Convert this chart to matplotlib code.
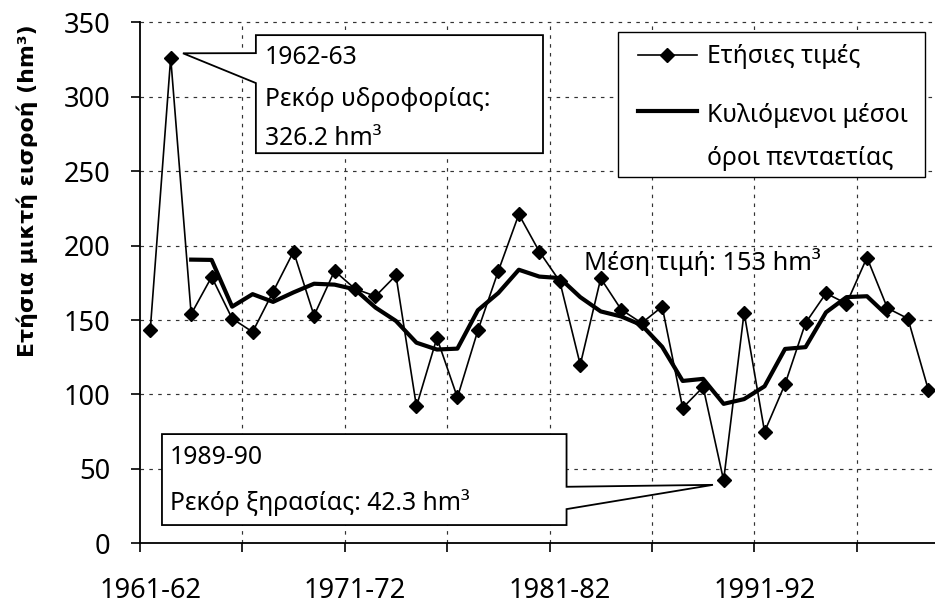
import numpy as np
import matplotlib.pyplot as plt
from matplotlib.patches import Polygon, Rectangle
from matplotlib.lines import Line2D

plt.rcParams["font.family"] = ["Noto Sans", "DejaVu Sans"]

# annual net inflow (hm3), hydrological years 1961-62 ... 1999-00
inflow = [143, 326.2, 154, 179, 151, 142, 169, 196, 153, 183,
          171, 166, 180, 92, 138, 98, 143, 183, 221, 196,
          176, 120, 178, 157, 148, 159, 91, 105, 42.3, 155,
          75, 107, 148, 168, 161, 192, 158, 151, 103]

# centred 5-year moving average, first value sits on the 3rd year
ma5_start = 2
ma5 = [190.6, 190.4, 159.0, 167.4, 162.2, 168.6, 174.4, 173.8, 170.6, 158.4,
       149.4, 134.8, 130.2, 130.8, 156.6, 168.2, 183.8, 179.2, 178.2, 165.4,
       155.8, 152.4, 146.6, 132.0, 109.1, 110.5, 93.7, 96.9, 105.5, 130.6,
       131.8, 155.2, 165.4, 166.0, 153.0]

tick_pos = [0, 10, 20, 30]
tick_labels = ["1961-62", "1971-72", "1981-82", "1991-92"]
mean_val = 153
wet_idx = 1    # 1962-63
dry_idx = 28   # 1989-90

x = np.arange(len(inflow))
xm = np.arange(ma5_start, ma5_start + len(ma5))

fig = plt.figure(figsize=(9.35, 6.05), dpi=100)
ax = fig.add_axes([0.1497, 0.1019, 0.8542, 0.8612])

ax.plot(x, inflow, color="black", lw=1.2, marker="D", ms=7, zorder=4)
ax.plot(xm, ma5, color="black", lw=3, zorder=3)

ax.set_xlim(-0.5, len(inflow) - 0.5)
ax.set_ylim(0, 350)

# grid
yt = np.arange(0, 351, 50)
ax.set_yticks(yt)
xt = np.arange(-0.5, len(inflow) - 1, 5)
ax.set_xticks(xt)
ax.set_xticks(tick_pos, minor=True)
ax.set_xticklabels(tick_labels, minor=True)
grid_ls = (0, (3, 4.5))
for yv in yt[1:]:
    ax.axhline(yv, color="#333333", lw=0.85, ls=grid_ls, zorder=0, clip_on=False)
for xv in xt[1:]:
    ax.axvline(xv, color="#333333", lw=0.85, ls=grid_ls, zorder=0)

ax.tick_params(axis="x", which="major", length=6.5, width=1.2, labelbottom=False)
ax.tick_params(axis="x", which="minor", length=0, pad=24, labelsize=19.6)
ax.tick_params(axis="y", length=6.7, width=1.2, pad=14.4, labelsize=19.6)
for s in ["top", "right"]:
    ax.spines[s].set_visible(False)
for s in ["left", "bottom"]:
    ax.spines[s].set_linewidth(1.3)
    ax.spines[s].set_zorder(5)

fig.text(0.029, 0.684, "Ετήσια μικτή εισροή (hm³)", rotation=90,
         ha="center", va="center", fontsize=15.8, fontweight="bold",
         family="DejaVu Sans")

fs = 17.8

# callout: wettest year
wx, wy = x[wet_idx] + 0.6, inflow[wet_idx] + 3
box1 = [(5.16, 341.4), (19.18, 341.4), (19.18, 262.1), (5.16, 262.1),
        (5.16, 309.2), (wx, wy), (5.16, 329.3)]
ax.add_patch(Polygon(box1, closed=True, fc="white", ec="black", lw=1.3, zorder=6))
ax.text(5.6, 322.0, "1962-63", fontsize=fs, va="baseline", zorder=7)
ax.text(5.6, 294.0, "Ρεκόρ υδροφορίας:", fontsize=fs, va="baseline", zorder=7)
ax.text(5.6, 267.5, "326.2 hm³", fontsize=fs, va="baseline", zorder=7)

# callout: driest year
dx, dy = x[dry_idx] - 0.52, inflow[dry_idx] - 3
box2 = [(0.574, 73.4), (20.33, 73.4), (20.33, 38.0), (dx, dy),
        (20.33, 23.0), (20.33, 12.3), (0.574, 12.3)]
ax.add_patch(Polygon(box2, closed=True, fc="white", ec="black", lw=1.3, zorder=6))
ax.text(0.965, 53.0, "1989-90", fontsize=fs, va="baseline", zorder=7)
ax.text(0.965, 22.4, "Ρεκόρ ξηρασίας: 42.3 hm³", fontsize=fs, va="baseline", zorder=7)

# mean value label
ax.text(21.2, 183.5, "Μέση τιμή: %d hm³" % mean_val, fontsize=18.3,
        va="baseline", zorder=7)

# legend drawn by hand (second label is split over two lines)
T = ax.transAxes
ax.add_patch(Rectangle((0.5985, 0.7031), 0.3843, 0.2783, transform=T,
                       fc="white", ec="black", lw=1.0, zorder=6))
ax.add_line(Line2D([0.6235, 0.6974], [0.938, 0.938], transform=T, color="black",
                   lw=1.2, zorder=7))
ax.add_line(Line2D([0.6598], [0.938], transform=T, color="black", marker="D",
                   ms=7, zorder=7))
ax.add_line(Line2D([0.6235, 0.6974], [0.8305, 0.8305], transform=T, color="black",
                   lw=3, zorder=7))
ax.text(0.710, 0.9216, "Ετήσιες τιμές", transform=T, fontsize=fs,
        va="baseline", zorder=7)
ax.text(0.710, 0.8091, "Κυλιόμενοι μέσοι", transform=T, fontsize=fs,
        va="baseline", zorder=7)
ax.text(0.710, 0.7261, "όροι πενταετίας", transform=T, fontsize=fs,
        va="baseline", zorder=7)

fig.savefig("out.png", dpi=100)
